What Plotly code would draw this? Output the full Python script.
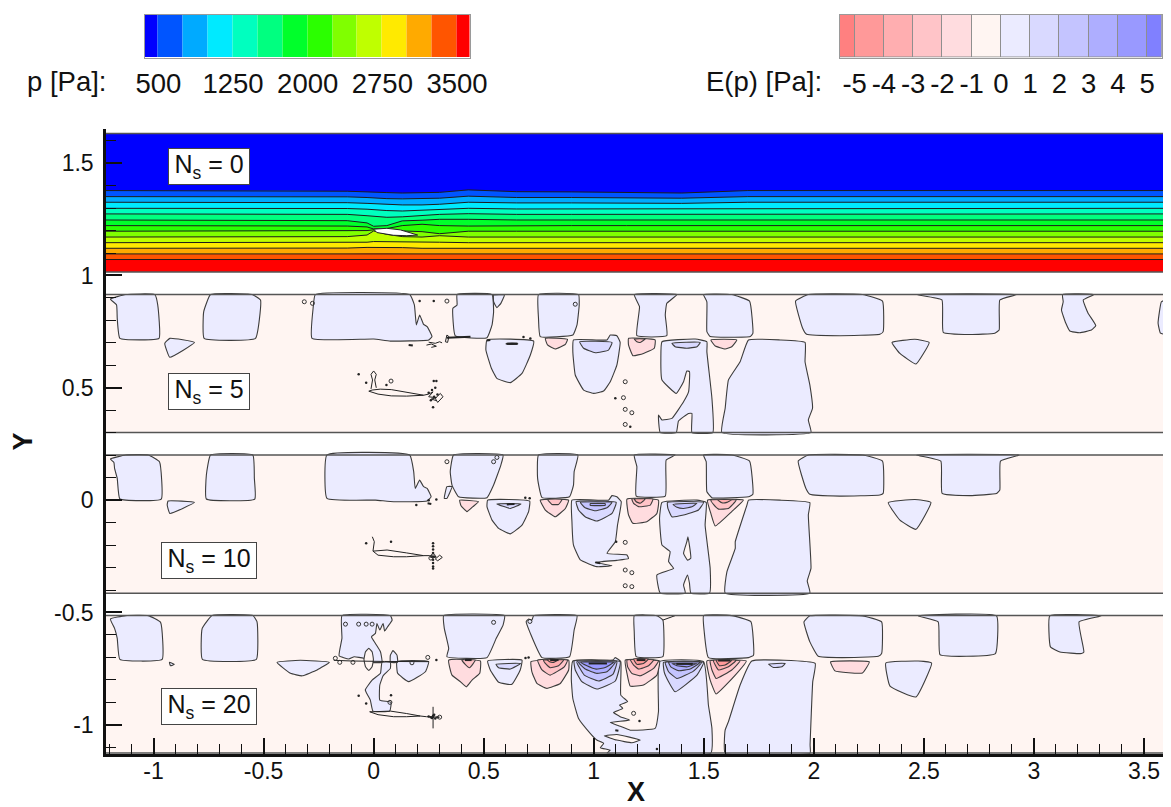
import plotly.graph_objects as go

# ---------- colour legends ----------
P_LEVELS = [500, 750, 1000, 1250, 1500, 1750, 2000, 2250, 2500, 2750, 3000, 3250, 3500]
P_EDGES = [366] + P_LEVELS + [3633]
P_COLORS = ["#0000ff", "#0055ff", "#00aaff", "#00eaff", "#00ffbf", "#00ff80", "#00ff2b",
            "#2bff00", "#80ff00", "#bfff00", "#ffea00", "#ffaa00", "#ff5500", "#ff0000"]
P_TICKS = [500, 1250, 2000, 2750, 3500]

E_LEVELS = [-5, -4, -3, -2, -1, 0, 1, 2, 3, 4, 5]
E_EDGES = [-5.5] + E_LEVELS + [5.5]
E_COLORS = ["#ff8080", "#ff9999", "#ffaeb0", "#ffc4c8", "#ffdcdf", "#fff5f2",
            "#ebebff", "#d9d9ff", "#c4c4ff", "#aeaeff", "#9999ff", "#8080ff"]
BG, L1, L2, L3, L4, L5 = E_COLORS[5], E_COLORS[6], E_COLORS[7], E_COLORS[8], E_COLORS[9], E_COLORS[10]
N1, N2, N3, N4 = E_COLORS[4], E_COLORS[3], E_COLORS[2], E_COLORS[1]

# ---------- panel extents in Y ----------
PANEL_XMIN, PANEL_XMAX = -1.216, 3.6
PANEL0_Y = (1.016, 1.632)
PANEL5_Y = (0.301, 0.915)
PANEL10_Y = (-0.414, 0.201)
PANEL20_Y = (-1.126, -0.514)

# ---------- N_s = 0: isobars of p ----------
ISO_X = [-1.216, -0.4, -0.12, -0.03, 0.0, 0.06, 0.13, 0.22, 0.30, 0.43, 0.65, 0.9, 1.15, 1.4, 1.7, 3.6]
ISO_500 = [1.378, 1.378, 1.375, 1.372, 1.370, 1.369, 1.367, 1.367, 1.370, 1.381, 1.373, 1.372, 1.370, 1.367, 1.378, 1.378]
ISO_750 = [1.351, 1.351, 1.350, 1.347, 1.345, 1.342, 1.341, 1.341, 1.344, 1.353, 1.347, 1.347, 1.345, 1.344, 1.351, 1.351]
ISO_1000 = [1.326, 1.326, 1.324, 1.321, 1.320, 1.315, 1.314, 1.314, 1.317, 1.326, 1.323, 1.323, 1.321, 1.321, 1.326, 1.326]
ISO_1250 = [1.299, 1.299, 1.298, 1.295, 1.292, 1.289, 1.287, 1.290, 1.293, 1.299, 1.296, 1.296, 1.298, 1.298, 1.299, 1.299]
ISO_1500 = [1.274, 1.274, 1.272, 1.266, 1.263, 1.259, 1.261, 1.266, 1.272, 1.275, 1.272, 1.272, 1.272, 1.272, 1.274, 1.274]
ISO_1750 = [1.247, 1.247, 1.244, 1.234, 1.219, 1.222, 1.243, 1.246, 1.250, 1.250, 1.247, 1.247, 1.247, 1.247, 1.247, 1.247]
ISO_2000 = [1.222, 1.222, 1.220, 1.216, 1.207, 1.209, 1.222, 1.228, 1.222, 1.220, 1.222, 1.222, 1.222, 1.222, 1.222, 1.222]
ISO_2250 = [1.197, 1.197, 1.197, 1.200, 1.203, 1.201, 1.198, 1.195, 1.186, 1.197, 1.197, 1.197, 1.197, 1.197, 1.197, 1.197]
ISO_2500 = [1.171, 1.171, 1.173, 1.180, 1.198, 1.183, 1.173, 1.171, 1.177, 1.171, 1.171, 1.171, 1.171, 1.171, 1.171, 1.171]
ISO_2750 = [1.146, 1.146, 1.148, 1.148, 1.151, 1.151, 1.148, 1.148, 1.148, 1.146, 1.146, 1.146, 1.146, 1.146, 1.146, 1.146]
ISO_3000 = [1.121, 1.121, 1.122, 1.125, 1.125, 1.125, 1.124, 1.121, 1.121, 1.121, 1.121, 1.121, 1.121, 1.121, 1.121, 1.121]
ISO_3250 = [1.096, 1.096, 1.097, 1.099, 1.099, 1.099, 1.097, 1.096, 1.096, 1.096, 1.096, 1.096, 1.096, 1.096, 1.096, 1.096]
ISO_3500 = [1.071, 1.071, 1.071, 1.071, 1.071, 1.071, 1.071, 1.071, 1.071, 1.071, 1.071, 1.071, 1.071, 1.071, 1.071, 1.071]
ISOBARS = [ISO_500, ISO_750, ISO_1000, ISO_1250, ISO_1500, ISO_1750, ISO_2000, ISO_2250,
           ISO_2500, ISO_2750, ISO_3000, ISO_3250, ISO_3500]
AIRFOIL0 = [(0.0, 1.206), (0.06, 1.210), (0.121, 1.203), (0.2, 1.180), (0.151, 1.177), (0.09, 1.179), (0.015, 1.191)]

# ---------- N_s = 5: E(p) contour regions ----------
NS5_L1 = [
    [(-1.196, .895), (-1.127, .915), (-.994, .915), (-.981, .869), (-.975, .720), (-1.153, .720), (-1.165, .809), (-1.168, .869)],
    [(-.741, .915), (-.552, .915), (-.514, .891), (-.537, .720), (-.770, .720), (-.772, .839)],
    [(-.926, .720), (-.814, .702), (-.926, .636), (-.949, .698)],
    [(-.265, .915), (.164, .915), (.185, .869), (.194, .780), (.209, .824), (.227, .782), (.243, .772), (.265, .728), (.250, .713), (.076, .708), (.0, .717), (-.280, .720), (-.275, .854)],
    [(.379, .915), (.538, .915), (.545, .839), (.538, .780), (.515, .723), (.371, .731), (.360, .854), (.379, .869)],
    [(.545, .913), (.594, .913), (.578, .876), (.560, .857), (.545, .883)],
    [(.515, .713), (.727, .708), (.712, .646), (.674, .564), (.621, .523), (.560, .542), (.535, .587), (.510, .668)],
    [(.749, .915), (.931, .915), (.934, .869), (.924, .780), (.905, .735), (.757, .728), (.749, .809)],
    [(.908, .713), (1.060, .713), (1.075, .735), (1.105, .732), (1.120, .702), (1.105, .601), (1.075, .527), (1.045, .486), (.999, .475), (.954, .490), (.916, .557), (.905, .661)],
    [(1.184, .915), (1.378, .915), (1.332, .876), (1.325, .824), (1.332, .732), (1.196, .732), (1.208, .861)],
    [(1.310, .705), (1.461, .717), (1.514, .705), (1.514, .661), (1.537, .453), (1.541, .301), (1.446, .301), (1.446, .386), (1.431, .386), (1.385, .352), (1.375, .301), (1.302, .301), (1.294, .379), (1.310, .357), (1.355, .364), (1.408, .438), (1.431, .483), (1.435, .572), (1.423, .575), (1.408, .527), (1.375, .475), (1.310, .535), (1.305, .631)],
    [(1.499, .915), (1.627, .915), (1.708, .886), (1.723, .742), (1.711, .728), (1.529, .728), (1.514, .750), (1.514, .883)],
    [(1.703, .713), (1.846, .713), (1.960, .702), (1.960, .616), (1.982, .512), (1.994, .409), (1.975, .357), (1.987, .301), (1.582, .301), (1.597, .408), (1.612, .535), (1.665, .616)],
    [(1.917, .886), (1.975, .915), (2.221, .915), (2.312, .886), (2.315, .750), (2.300, .738), (2.118, .732), (1.967, .738), (1.949, .765)],
    [(2.467, .915), (2.921, .915), (2.845, .891), (2.842, .757), (2.822, .743), (2.709, .737), (2.588, .747), (2.582, .891)],
    [(2.355, .702), (2.459, .716), (2.524, .702), (2.464, .606), (2.391, .653)],
    [(3.130, .915), (3.272, .915), (3.224, .891), (3.246, .832), (3.281, .777), (3.261, .757), (3.208, .745), (3.163, .753), (3.145, .787), (3.125, .846), (3.133, .883)],
    [(3.600, .891), (3.579, .883), (3.564, .787), (3.575, .743), (3.600, .738)],
]
NS5_L2 = [
    [(.603, .698), (.654, .698), (.654, .694), (.603, .694)],
    [(.936, .705), (1.083, .702), (1.067, .668), (1.007, .656), (.954, .676)],
    [(1.355, .698), (1.484, .702), (1.469, .683), (1.423, .676), (1.370, .683)],
]
NS5_N1 = [
    [(.780, .720), (.881, .716), (.871, .693), (.825, .673), (.790, .691)],
    [(1.158, .720), (1.279, .713), (1.275, .676), (1.226, .653), (1.178, .643), (1.158, .691)],
    [(1.532, .713), (1.650, .713), (1.627, .683), (1.597, .673), (1.552, .686)],
]
NS5_N2 = [[(1.184, .717), (1.234, .717), (1.211, .702), (1.196, .705)]]
NS5_STROKES = [
    [(-.007, .490), (.03, .494), (.08, .492), (.15, .480), (.227, .467), (.15, .463), (.08, .464), (.02, .472), (-.022, .485), (-.007, .490)],
    [(-.012, .495), (-.005, .535), (-.012, .560), (0, .575), (.012, .560), (.005, .535), (.012, .500)],
    [(.280, .453), (.303, .475), (.315, .460), (.291, .435), (.280, .453)],
    [(.227, .467), (.250, .472), (.270, .482), (.250, .460), (.285, .456), (.262, .450), (.285, .443)],
    [(.250, .703), (.265, .700), (.280, .698), (.300, .705), (.311, .700)],
    [(.240, .690), (.262, .695), (.285, .685), (.262, .680)],
    [(.326, .705), (.333, .735), (.342, .728), (.336, .702), (.326, .705)],
]
NS5_THICK = [[(.333, .723), (.440, .727)], [(.159, .691), (.178, .688)], [(.605, .696), (.652, .696)], [(.515, .711), (.530, .713)]]
NS5_DOTS_X = [.209, .273, -.068, -.034, .058, .273, .285, .270, .25, .265, .275, .29, .26, .28, 1.098, 1.166, .681, .712]
NS5_DOTS_Y = [.886, .886, .560, .523, .513, .530, .530, .414, .478, .49, .46, .47, .445, .50, .453, .327, .726, .720]
NS5_RINGS_X = [-.315, -.278, .333, .079, 1.135, 1.143, 1.143, 1.173, 1.143, .916]
NS5_RINGS_Y = [.883, .876, .886, .530, .456, .527, .404, .389, .337, .872]

# ---------- N_s = 10 ----------
NS10_L1 = [
    [(-1.196, .183), (-1.127, .201), (-1.024, .201), (-.973, .171), (-.965, .005), (-1.153, .005), (-1.165, .097), (-1.177, .141), (-1.180, .168)],
    [(-.741, .201), (-.549, .201), (-.542, .097), (-.540, .005), (-.760, .005), (-.760, .112)],
    [(-.934, -.004), (-.814, -.010), (-.926, -.059), (-.938, -.022)],
    [(-.212, .201), (.164, .201), (.182, .127), (.189, .052), (.209, .089), (.227, .060), (.243, .052), (.261, .015), (.243, -.004), (.091, -.007), (.008, .0), (-.212, .008)],
    [(.363, .201), (.588, .201), (.578, .156), (.545, .067), (.515, .011), (.386, .015), (.356, .067), (.348, .127)],
    [(.333, .060), (.356, .060), (.333, .008), (.321, .008)],
    [(.518, .0), (.709, -.004), (.704, -.051), (.674, -.111), (.621, -.150), (.568, -.126), (.538, -.089), (.515, -.029)],
    [(.749, .201), (.928, .201), (.911, .127), (.908, .067), (.890, .015), (.765, .011), (.745, .097)],
    [(.901, .0), (1.067, .0), (1.083, .020), (1.105, .015), (1.125, -.007), (1.108, -.111), (1.098, -.185), (1.060, -.237), (1.151, -.244), (1.158, -.260), (1.105, -.268), (1.007, -.277), (1.083, -.292), (1.014, -.296), (.939, -.266), (.908, -.200), (.901, -.096)],
    [(1.184, .201), (1.370, .201), (1.329, .179), (1.325, .018), (1.193, .018), (1.196, .149)],
    [(1.310, -.010), (1.469, .0), (1.511, -.010), (1.506, -.111), (1.529, -.304), (1.526, -.414), (1.441, -.414), (1.435, -.370), (1.426, -.333), (1.408, -.378), (1.416, -.414), (1.302, -.414), (1.287, -.333), (1.363, -.304), (1.340, -.274), (1.347, -.229), (1.310, -.200), (1.299, -.081)],
    [(1.499, .201), (1.627, .201), (1.708, .174), (1.723, .026), (1.703, .015), (1.537, .011), (1.514, .037), (1.511, .171)],
    [(1.703, .0), (1.846, .0), (1.982, -.011), (1.975, -.066), (1.987, -.304), (1.970, -.360), (1.982, -.414), (1.597, -.414), (1.605, -.319), (1.643, -.215), (1.643, -.185), (1.696, -.022)],
    [(1.929, .174), (1.975, .201), (2.221, .201), (2.312, .174), (2.315, .030), (2.300, .023), (2.118, .018), (1.982, .026), (1.964, .052)],
    [(2.467, .201), (2.933, .201), (2.848, .174), (2.845, .045), (2.830, .029), (2.709, .020), (2.583, .030), (2.577, .174)],
    [(2.338, -.011), (2.459, .003), (2.532, -.010), (2.464, -.130), (2.391, -.089)],
]
NS10_HOLES = [[(1.428, -.163), (1.441, -.259), (1.426, -.267), (1.408, -.237), (1.423, -.185)]]
NS10_L2 = [
    [(.560, -.017), (.669, -.017), (.621, -.037)],
    [(.920, -.007), (1.102, -.010), (1.083, -.059), (1.014, -.093), (.961, -.074), (.931, -.044)],
    [(1.335, -.010), (1.499, -.010), (1.476, -.044), (1.408, -.066), (1.355, -.074), (1.337, -.037)],
]
NS10_L3 = [
    [(.939, -.010), (1.083, -.010), (1.060, -.034), (1.007, -.047), (.961, -.034)],
    [(1.360, -.019), (1.469, -.014), (1.446, -.029), (1.408, -.037), (1.378, -.032)],
]
NS10_L4 = [[(.984, -.016), (1.052, -.016), (1.052, -.023), (.984, -.023)]]
NS10_N1 = [
    [(.391, .0), (.477, -.007), (.451, -.029), (.424, -.051), (.397, -.025)],
    [(.757, .0), (.886, .0), (.871, -.037), (.825, -.074), (.780, -.044)],
    [(1.151, .005), (1.294, .0), (1.287, -.059), (1.241, -.096), (1.178, -.103), (1.158, -.066)],
    [(1.517, .0), (1.680, .0), (1.627, -.051), (1.552, -.115), (1.532, -.059)],
]
NS10_N2 = [
    [(.790, .003), (.856, .003), (.840, -.019), (.810, -.019)],
    [(1.173, .005), (1.269, .005), (1.257, -.022), (1.204, -.029), (1.181, -.014)],
    [(1.532, .0), (1.647, .0), (1.612, -.037), (1.567, -.040), (1.544, -.019)],
]
NS10_N3 = [
    [(1.184, .005), (1.234, .005), (1.211, -.014), (1.193, -.007)],
    [(1.562, .002), (1.627, .002), (1.605, -.010), (1.582, -.012)],
]
NS10_STROKES = [
    [(-.003, -.227), (.061, -.222), (.15, -.235), (.227, -.247), (.15, -.252), (.091, -.252), (.02, -.245), (-.003, -.227)],
    [(-.006, -.163), (.003, -.185), (-.003, -.227)],
    [(.280, -.262), (.300, -.245), (.312, -.255), (.291, -.270), (.280, -.262)],
    [(.227, -.247), (.255, -.247), (.285, -.252)],
]
NS10_THICK = [[(.245, -.014), (.262, -.017)], [(.605, -.019), (.640, -.017)], [(1.007, -.277), (1.030, -.281)]]
NS10_DOTS_X = [-.034, .079, .285, .194, .27, .27, .27, .27, .27, .27, .27, .27, .262, .278, .27, .709, .689, 1.102, .25]
NS10_DOTS_Y = [-.192, -.185, .003, -.022, -.192, -.205, -.220, -.235, -.265, -.280, -.295, -.304, -.252, -.252, -.252, .008, .011, -.185, .0]
NS10_RINGS_X = [.333, .545, .56, 1.143, 1.143, 1.173, 1.143, 1.173, .27, .26]
NS10_RINGS_Y = [.171, .171, .19, -.188, -.311, -.323, -.381, -.385, -.248, -.258]

# ---------- N_s = 20 ----------
NS20_L1 = [
    [(-1.196, -.529), (-1.127, -.514), (-1.024, -.514), (-.968, -.544), (-.961, -.709), (-1.153, -.709), (-1.165, -.615), (-1.177, -.571)],
    [(-.734, -.514), (-.548, -.514), (-.530, -.541), (-.533, -.709), (-.778, -.709), (-.779, -.571)],
    [(-.928, -.722), (-.905, -.731), (-.923, -.737)],
    [(-.439, -.722), (-.333, -.713), (-.201, -.722), (-.257, -.756), (-.325, -.782), (-.378, -.771)],
    [(-.144, -.514), (.076, -.514), (.084, -.534), (.064, -.563), (.050, -.583), (.043, -.549), (.028, -.578), (.015, -.549), (.008, -.593), (-.010, -.608), (.008, -.638), (.031, -.675), (.038, -.722), (-.007, -.722), (-.045, -.704), (-.088, -.697), (-.113, -.707), (-.157, -.693), (-.144, -.615)],
    [(.038, -.722), (.076, -.722), (.076, -.749), (.043, -.782), (.028, -.823), (.028, -.890), (.079, -.900), (.073, -.939), (-.003, -.939), (-.015, -.890), (-.038, -.845), (-.007, -.801), (.031, -.771)],
    [(.076, -.690), (.088, -.670), (.106, -.690), (.109, -.722), (.076, -.722)],
    [(.106, -.719), (.250, -.719), (.235, -.764), (.159, -.808), (.109, -.771)],
    [(.318, -.514), (.595, -.514), (.588, -.556), (.557, -.615), (.515, -.701), (.333, -.697), (.341, -.660), (.321, -.571)],
    [(.518, -.716), (.674, -.712), (.666, -.756), (.628, -.820), (.568, -.811), (.530, -.756)],
    [(.727, -.514), (.924, -.514), (.911, -.578), (.890, -.697), (.765, -.701), (.712, -.593), (.693, -.541), (.704, -.529), (.719, -.534)],
    [(.905, -.716), (1.087, -.712), (1.098, -.701), (1.123, -.719), (1.123, -.868), (1.154, -.897), (1.117, -.912), (1.132, -.927), (1.090, -.945), (1.120, -.964), (1.163, -.979), (1.075, -.989), (1.113, -1.004), (1.166, -1.024), (1.279, -1.016), (1.294, -.942), (1.299, -.719), (1.499, -.719), (1.521, -.912), (1.537, -1.016), (1.532, -1.126), (1.060, -1.126), (1.075, -1.113), (1.030, -1.102), (1.045, -1.083), (1.014, -1.068), (.984, -1.038), (.931, -.972), (.905, -.883), (.898, -.794)],
    [(1.184, -.514), (1.287, -.514), (1.314, -.534), (1.314, -.697), (1.193, -.697), (1.184, -.586)],
    [(1.499, -.514), (1.627, -.514), (1.714, -.541), (1.726, -.690), (1.703, -.701), (1.521, -.701), (1.502, -.586)],
    [(1.718, -.716), (2.006, -.727), (1.995, -.808), (1.983, -1.090), (1.983, -1.126), (1.597, -1.126), (1.597, -1.024), (1.612, -.986), (1.665, -.823)],
    [(1.955, -.542), (1.982, -.515), (2.221, -.515), (2.308, -.542), (2.308, -.683), (2.293, -.695), (2.126, -.701), (2.020, -.695), (1.982, -.631)],
    [(2.327, -.725), (2.474, -.716), (2.535, -.725), (2.464, -.876), (2.346, -.828)],
    [(2.474, -.515), (2.830, -.515), (2.825, -.683), (2.694, -.695), (2.573, -.688), (2.565, -.542)],
    [(3.072, -.515), (3.307, -.515), (3.205, -.542), (3.227, -.676), (3.216, -.683), (3.118, -.676), (3.075, -.653)],
]
NS20_HOLES = [
    [(-.022, -.660), (-.007, -.675), (-.001, -.709), (-.007, -.742), (-.022, -.758), (-.037, -.742), (-.044, -.709), (-.037, -.675)],
    [(1.048, -1.049), (1.105, -1.043), (1.211, -1.068), (1.173, -1.080), (1.105, -1.068)],
]
NS20_L2 = [
    [(.556, -.731), (.669, -.727), (.621, -.752), (.568, -.746)],
    [(.911, -.716), (1.120, -.719), (1.098, -.805), (1.014, -.841), (.946, -.808), (.916, -.756)],
    [(1.317, -.722), (1.499, -.722), (1.469, -.779), (1.370, -.853), (1.340, -.808), (1.320, -.764)],
    [(1.794, -.730), (1.870, -.727), (1.855, -.742), (1.817, -.745)],
]
NS20_L3 = [
    [(.923, -.719), (1.105, -.719), (1.087, -.776), (1.022, -.805), (.957, -.779)],
    [(1.325, -.722), (1.491, -.722), (1.453, -.761), (1.378, -.794), (1.340, -.764)],
]
NS20_L4 = [
    [(.931, -.722), (1.098, -.722), (1.060, -.764), (1.014, -.771), (.961, -.752)],
    [(1.340, -.722), (1.484, -.722), (1.438, -.752), (1.385, -.759), (1.350, -.742)],
]
NS20_L5 = [
    [(.942, -.722), (1.090, -.722), (1.052, -.745), (1.011, -.752), (.969, -.737)],
    [(1.355, -.727), (1.469, -.727), (1.423, -.742), (1.378, -.737)],
]
NS20_N1 = [
    [(.341, -.712), (.485, -.716), (.482, -.771), (.447, -.801), (.421, -.831), (.394, -.808), (.356, -.779)],
    [(.715, -.719), (.886, -.712), (.886, -.756), (.848, -.816), (.787, -.838), (.742, -.816), (.719, -.764)],
    [(1.143, -.712), (1.299, -.716), (1.287, -.779), (1.226, -.823), (1.166, -.828), (1.151, -.771)],
    [(1.514, -.716), (1.693, -.716), (1.643, -.779), (1.556, -.863), (1.529, -.801)],
    [(2.076, -.720), (2.252, -.720), (2.221, -.769), (2.096, -.760)],
]
NS20_N2 = [
    [(.401, -.712), (.462, -.712), (.436, -.746), (.416, -.731)],
    [(.745, -.712), (.881, -.712), (.866, -.742), (.802, -.779), (.765, -.756)],
    [(1.151, -.712), (1.294, -.716), (1.272, -.749), (1.211, -.782), (1.173, -.771), (1.154, -.742)],
    [(1.529, -.715), (1.665, -.715), (1.627, -.756), (1.556, -.794), (1.537, -.756)],
]
NS20_N3 = [
    [(.772, -.712), (.863, -.712), (.840, -.737), (.802, -.746), (.780, -.727)],
    [(1.166, -.710), (1.272, -.712), (1.249, -.737), (1.204, -.752), (1.181, -.734)],
    [(1.544, -.713), (1.647, -.713), (1.612, -.742), (1.567, -.756), (1.552, -.734)],
]
NS20_N4 = [
    [(.787, -.709), (.840, -.709), (.818, -.722), (.799, -.719)],
    [(1.181, -.707), (1.249, -.707), (1.226, -.727), (1.196, -.731)],
    [(1.556, -.713), (1.627, -.713), (1.597, -.734), (1.571, -.737)],
]
NS20_STROKES = [
    [(0.0, -.942), (.076, -.939), (.15, -.950), (.212, -.961), (.15, -.964), (.091, -.964), (.02, -.955), (-.018, -.942), (0.0, -.942)],
    [(-.181, -.713), (-.1, -.716), (.05, -.718), (.25, -.719)],
    [(.212, -.961), (.24, -.964), (.30, -.966)],
    [(.27, -.920), (.27, -1.016)],
    [(1.314, -.534), (1.370, -.514)],
]
NS20_THICK = [[(.977, -.727), (1.060, -.727)], [(1.375, -.729), (1.450, -.729)], [(.802, -.712), (.840, -.712)], [(1.195, -.712), (1.235, -.712)], [(1.565, -.714), (1.62, -.714)], [(.415, -.712), (.445, -.712)], [(1.098, -1.024), (1.112, -1.026)]]
NS20_DOTS_X = [-.068, -.034, .079, .285, .27, .265, .275, .26, .28, .25, .29, 1.208, 1.287, .704, .69, .27]
NS20_DOTS_Y = [-.871, -.905, -.868, -.712, -.96, -.97, -.955, -.966, -.972, -.963, -.966, -.983, -1.108, -.700, -.703, -.964]
NS20_RINGS_X = [-.128, -.068, -.034, -.007, -.174, -.154, -.094, .174, .246, .545, 1.181, .074, .30, .71]
NS20_RINGS_Y = [-.552, -.552, -.552, -.552, -.704, -.722, -.722, -.724, -.700, -.544, -.949, -.900, -.966, -.54]

# ---------- tick and label text ----------
X_TICKS = [-1, -0.5, 0, 0.5, 1, 1.5, 2, 2.5, 3, 3.5]
X_LABELS = ["-1", "-0.5", "0", "0.5", "1", "1.5", "2", "2.5", "3", "3.5"]
Y_TICKS = [-1, -0.5, 0, 0.5, 1, 1.5]
Y_LABELS = ["-1", "-0.5", "0", "0.5", "1", "1.5"]
PANEL_TAGS = ["N<sub>s</sub> = 0", "N<sub>s</sub> = 5", "N<sub>s</sub> = 10", "N<sub>s</sub> = 20"]
TAG_X = [-.749, -.749, -.748, -.748]
TAG_Y = [1.484, .484, -.269, -.919]
TAG_W = [80, 80, 94, 94]

# ---------- figure dimensions (px); the page body adds an 8 px offset ----------
W, H = 1163, 799
OFF = 8
FONT = "Liberation Sans"
LINE = "#3c3c3c"


def xp(px):
    return (px - OFF) / W


def yp(py):
    return 1 - (py - OFF) / H


def flat(polys):
    xs, ys = [], []
    for p in polys:
        for a, b in p:
            xs.append(a)
            ys.append(b)
        xs.append(None)
        ys.append(None)
    return xs, ys


fig = go.Figure()


def regions(polys, color):
    xs, ys = [], []
    for p in polys:
        xs += [a for a, _ in p] + [p[0][0], None]
        ys += [b for _, b in p] + [p[0][1], None]
    fig.add_trace(go.Scatter(x=xs, y=ys, mode="lines", fill="toself", fillcolor=color,
                             line=dict(color=LINE, width=1.1, shape="spline", smoothing=0.35),
                             hoverinfo="skip", showlegend=False))


def strokes(polys, width):
    xs, ys = flat(polys)
    fig.add_trace(go.Scatter(x=xs, y=ys, mode="lines", line=dict(color="#222222", width=width),
                             hoverinfo="skip", showlegend=False))


def panel(yrange, color):
    lo, hi = yrange
    fig.add_trace(go.Scatter(x=[PANEL_XMIN, PANEL_XMAX, PANEL_XMAX, PANEL_XMIN, PANEL_XMIN],
                             y=[lo, lo, hi, hi, lo], mode="none", fill="toself", fillcolor=color,
                             hoverinfo="skip", showlegend=False))


def frame(yrange):
    lo, hi = yrange
    fig.add_trace(go.Scatter(x=[PANEL_XMIN, PANEL_XMAX, None, PANEL_XMIN, PANEL_XMAX],
                             y=[lo, lo, None, hi, hi], mode="lines",
                             line=dict(color="#555555", width=1.5), hoverinfo="skip", showlegend=False))


def spots(dx, dy, rx, ry):
    fig.add_trace(go.Scatter(x=dx, y=dy, mode="markers", marker=dict(color="#222222", size=2.5),
                             hoverinfo="skip", showlegend=False))
    fig.add_trace(go.Scatter(x=rx, y=ry, mode="markers",
                             marker=dict(symbol="circle-open", color="#333333", size=4, line=dict(width=1)),
                             hoverinfo="skip", showlegend=False))


# N_s = 0 panel
panel(PANEL0_Y, P_COLORS[0])
for i, iso in enumerate(ISOBARS):
    fig.add_trace(go.Scatter(x=ISO_X + [PANEL_XMAX, PANEL_XMIN],
                             y=iso + [PANEL0_Y[0], PANEL0_Y[0]], mode="none", fill="toself",
                             fillcolor=P_COLORS[i + 1], hoverinfo="skip", showlegend=False))
for iso in ISOBARS:
    fig.add_trace(go.Scatter(x=ISO_X, y=iso, mode="lines", line=dict(color="#1c1c1c", width=1),
                             hoverinfo="skip", showlegend=False))
fig.add_trace(go.Scatter(x=[a for a, _ in AIRFOIL0] + [AIRFOIL0[0][0]],
                         y=[b for _, b in AIRFOIL0] + [AIRFOIL0[0][1]], mode="lines", fill="toself",
                         fillcolor="white", line=dict(color="#222222", width=1), hoverinfo="skip", showlegend=False))
frame(PANEL0_Y)

# N_s = 5 panel
panel(PANEL5_Y, BG)
regions(NS5_L1, L1)
regions(NS5_L2, L2)
regions(NS5_N1, N1)
regions(NS5_N2, N2)
strokes(NS5_STROKES, 1)
strokes(NS5_THICK, 2)
spots(NS5_DOTS_X, NS5_DOTS_Y, NS5_RINGS_X, NS5_RINGS_Y)
frame(PANEL5_Y)

# N_s = 10 panel
panel(PANEL10_Y, BG)
regions(NS10_L1, L1)
regions(NS10_HOLES, BG)
regions(NS10_L2, L2)
regions(NS10_L3, L3)
regions(NS10_L4, L4)
regions(NS10_N1, N1)
regions(NS10_N2, N2)
regions(NS10_N3, N3)
strokes(NS10_STROKES, 1)
strokes(NS10_THICK, 2)
spots(NS10_DOTS_X, NS10_DOTS_Y, NS10_RINGS_X, NS10_RINGS_Y)
frame(PANEL10_Y)

# N_s = 20 panel
panel(PANEL20_Y, BG)
regions(NS20_L1, L1)
regions(NS20_HOLES, BG)
regions(NS20_L2, L2)
regions(NS20_L3, L3)
regions(NS20_L4, L4)
regions(NS20_L5, L5)
regions(NS20_N1, N1)
regions(NS20_N2, N2)
regions(NS20_N3, N3)
regions(NS20_N4, N4)
strokes(NS20_STROKES, 1)
strokes(NS20_THICK, 2)
spots(NS20_DOTS_X, NS20_DOTS_Y, NS20_RINGS_X, NS20_RINGS_Y)
frame(PANEL20_Y)


def legend_bars(edges, colors, xa, ya, line):
    centers = [(a + b) / 2 for a, b in zip(edges[:-1], edges[1:])]
    widths = [b - a for a, b in zip(edges[:-1], edges[1:])]
    fig.add_trace(go.Bar(x=centers, y=[1] * len(centers), width=widths,
                         marker=dict(color=colors, line=dict(color=line, width=1)),
                         xaxis=xa, yaxis=ya, hoverinfo="skip", showlegend=False))


legend_bars(P_EDGES, P_COLORS, "x2", "y2", "rgba(0,0,0,0)")
legend_bars(E_EDGES, E_COLORS, "x3", "y3", "#8f8f8f")

tick_font = dict(family=FONT, size=23, color="#111111")
leg_font = dict(family=FONT, size=27.5, color="#111111")
title_font = dict(family=FONT, size=27, color="#111111")


def legend_x(l, r, edges, ticks, labels, anchor):
    return dict(domain=[xp(l), xp(r)], range=[edges[0], edges[-1]], tickvals=ticks, ticktext=labels,
                ticks="outside", ticklen=1, tickcolor="rgba(0,0,0,0)", tickfont=leg_font, automargin=False,
                showgrid=False, zeroline=False, showline=True, mirror=True, linecolor="#9a9a9a", linewidth=1,
                anchor=anchor, fixedrange=True)


def legend_y(anchor):
    return dict(domain=[yp(57.5), yp(14.5)], range=[0, 1], showticklabels=False, ticks="", showgrid=False,
                zeroline=False, showline=True, mirror=True, linecolor="#9a9a9a", linewidth=1, anchor=anchor,
                fixedrange=True, automargin=False)


annotations = [
    dict(text=t, x=x, y=y, xref="x", yref="y", showarrow=False, width=w, height=35, bgcolor="white",
         bordercolor="#444444", borderwidth=1, borderpad=0, font=dict(family=FONT, size=25, color="#111111"))
    for t, x, y, w in zip(PANEL_TAGS, TAG_X, TAG_Y, TAG_W)
]
annotations += [
    dict(text="p [Pa]:", x=xp(25), y=yp(82), xref="paper", yref="paper", xanchor="left", yanchor="middle",
         showarrow=False, font=leg_font),
    dict(text="E(p) [Pa]:", x=xp(704), y=yp(82), xref="paper", yref="paper", xanchor="left", yanchor="middle",
         showarrow=False, font=leg_font),
]

fig.update_layout(
    width=W, height=H, autosize=False, margin=dict(l=0, r=0, t=0, b=0, pad=0),
    paper_bgcolor="white", plot_bgcolor="white", showlegend=False, bargap=0,
    font=dict(family=FONT, color="#111111"),
    xaxis=dict(domain=[xp(106), xp(1166)], range=[PANEL_XMIN, PANEL_XMAX], tickmode="array", automargin=False,
               tickvals=X_TICKS, ticktext=X_LABELS, ticks="inside", ticklen=16, tickwidth=2, tickcolor="#111111",
               minor=dict(tickmode="linear", tick0=0, dtick=0.1, ticks="inside", ticklen=10, tickwidth=1.3,
                          tickcolor="#111111", showgrid=False),
               showgrid=False, zeroline=False, showline=True, linecolor="#111111", linewidth=2.5,
               tickfont=tick_font, anchor="y", ticklabelstandoff=-5,
               title=dict(text="<b>X</b>", font=title_font, standoff=18)),
    yaxis=dict(domain=[yp(754), yp(129)], range=[-1.130, 1.652], tickmode="array", automargin=False,
               tickvals=Y_TICKS, ticktext=Y_LABELS, ticks="inside", ticklen=16, tickwidth=2, tickcolor="#111111",
               minor=dict(tickmode="linear", tick0=0, dtick=0.1, ticks="inside", ticklen=10, tickwidth=1.3,
                          tickcolor="#111111", showgrid=False),
               showgrid=False, zeroline=False, showline=True, linecolor="#111111", linewidth=2.5,
               tickfont=tick_font, anchor="x", ticklabelstandoff=5,
               title=dict(text="<b>Y</b>", font=title_font, standoff=19)),
    xaxis2=legend_x(145, 470.3, P_EDGES, P_TICKS, [str(v) for v in P_TICKS], "y2"),
    yaxis2=legend_y("x2"),
    xaxis3=legend_x(840, 1161.7, E_EDGES, E_LEVELS, [str(v) for v in E_LEVELS], "y3"),
    yaxis3=legend_y("x3"),
    annotations=annotations,
)

fig.write_html("out.html")
